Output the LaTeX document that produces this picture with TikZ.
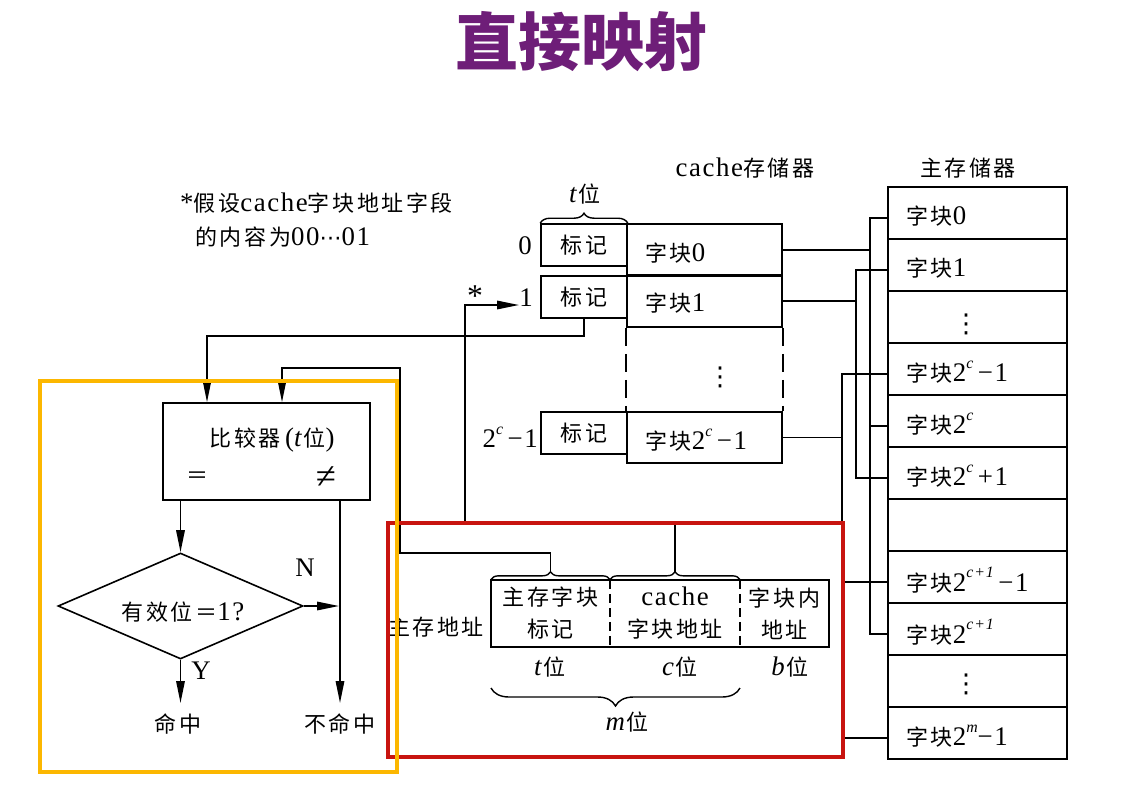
\documentclass[tikz,border=0pt]{standalone}
\usepackage{fontspec}
\setmainfont[Scale=1.22, LetterSpace=6]{Liberation Serif}
\newfontfamily\cjk[LetterSpace=12]{Noto Sans CJK SC}
\newfontfamily\cjktitle{Noto Sans CJK SC}
\newfontfamily\djv{DejaVu Sans}
\usetikzlibrary{arrows.meta,shapes.geometric,decorations.pathreplacing,calc}
\newcommand\zh[1]{{\cjk #1}}
\newcommand\upc[1]{\raisebox{0.5em}{\fontsize{13}{13}\selectfont\itshape #1}}
\newcommand\vd{{\djv\fontsize{26}{26}\selectfont ⋮}}
\definecolor{titlepurple}{RGB}{110,30,120}
\definecolor{hlorange}{RGB}{252,183,0}
\definecolor{hlred}{RGB}{200,20,15}
\begin{document}
\begin{tikzpicture}[x=1pt,y=-1pt,
  every node/.style={inner sep=0pt, font=\fontsize{22}{32}\selectfont},
  ln/.style={line width=1.6pt},
  arr/.style={line width=1.6pt, -{Triangle[length=22pt,width=8.5pt]}},
  tagbox/.style={draw, line width=1.6pt, minimum width=86, minimum height=42},
  datab/.style={draw, line width=1.6pt, minimum width=155, minimum height=#1},
  mmcell/.style={draw, line width=1.6pt, minimum width=179, minimum height=52},
  fieldb/.style={minimum width=#1, minimum height=67, align=center},
  bracedec/.style={line width=1.4pt, decorate, decoration={brace, amplitude=#1}},
  dashline/.style={line width=1.6pt, dash pattern=on 18pt off 8pt}
]
\useasboundingbox (0,0) rectangle (1139,803);

% title
\node[font=\cjktitle\bfseries\fontsize{63}{63}\selectfont, text=titlepurple] (title) at (581,42) {直接映射};

% note
\node[anchor=west] (note1) at (180,203) {*\zh{假设}cache\zh{字块地址字段}};
\node[anchor=west] (note2) at (195,237) {\zh{的内容为}00{\djv ⋯}01};

% cache
\node (cachelbl) at (745,168) {cache\zh{存储器}};
\node[tagbox] (tag0) at (584,245) {\zh{标记}};
\node[tagbox] (tag1) at (584,297) {\zh{标记}};
\node[tagbox] (tagN) at (584,433) {\zh{标记}};
\node[datab=52] (row0) at (704.5,250) {};
\node[datab=52] (row1) at (704.5,301) {};
\node[datab=51] (rowN) at (704.5,437.5) {};
\draw[dashline] (row1.south west) -- (rowN.north west);
\draw[dashline] (row1.south east) -- (rowN.north east);
\node[anchor=west] (l0) at (645,253) {\zh{字块}0};
\node[anchor=west] (l1) at (645,303) {\zh{字块}1};
\node[anchor=west] (lN) at (645,440) {\zh{字块}2\upc{c}\,−1};
\node (cvd) at (720,377) {\vd};
\node[anchor=east] (i0) at (532,246) {0};
\node[anchor=east] (i1) at (533,298) {1};
\node[anchor=east] (iN) at (538,437) {2\upc{c}\,−1};
\draw[bracedec=10] (tag0.north west) -- (tag0.north east);
\node (tlbl) at (585,194) {\textit{t}\zh{位}};

% main memory
\node (mmlbl) at (968,168) {\zh{主存储器}};
\foreach \i in {0,...,10} {\node[mmcell] (mm\i) at (977.5,{213+52*\i}) {};}
\node[anchor=west] (m0t) at (906,216) {\zh{字块}0};
\node[anchor=west] (m1t) at (906,268) {\zh{字块}1};
\node (m2t) at (966,324) {\vd};
\node[anchor=west] (m3t) at (906,372) {\zh{字块}2\upc{c}\,−1};
\node[anchor=west] (m4t) at (906,424) {\zh{字块}2\upc{c}};
\node[anchor=west] (m5t) at (906,476) {\zh{字块}2\upc{c}\,+1};
\node[anchor=west] (m7t) at (906,580) {\zh{字块}2\upc{c+1}\,−1};
\node[anchor=west] (m8t) at (906,632) {\zh{字块}2\upc{c+1}};
\node (m9t) at (966,684) {\vd};
\node[anchor=west] (m10t) at (906,736) {\zh{字块}2\upc{m}−1};

% buses cache -> main memory
\coordinate (busA) at (870,0);
\coordinate (busB) at (856,0);
\coordinate (busC) at (842,0);
\foreach \i in {0,1,3,4,5,7,8,10} {\coordinate (p\i) at ($(mm\i.west)+(0,5)$);}
\draw[ln] (row0.east) -- (row0.east -| busA);
\draw[ln] (p0) -- (p0 -| busA) -- (p8 -| busA) -- (p8);
\draw[ln] (p4) -- (p4 -| busA);
\draw[ln] (row1.east) -- (row1.east -| busB);
\draw[ln] (p1) -- (p1 -| busB) -- (p5 -| busB) -- (p5);
\draw[ln] (rowN.east) -- (rowN.east -| busC);
\draw[ln] (p3) -- (p3 -| busC) -- (p10 -| busC) -- (p10);
\draw[ln] (p7) -- (p7 -| busC);

% comparator and decision
\node[draw, line width=1.6pt, minimum width=207, minimum height=97] (cmp) at (266.5,451.5) {};
\node (cmpt) at (272,440) {\zh{比较器}\,(\textit{t}\zh{位})};
\node (eq) at (197,478) {\zh{＝}};
\node[font=\fontsize{30}{30}\selectfont] (neq) at (326,478) {≠};
\node[diamond, draw, line width=1.6pt, minimum width=245, minimum height=106] (dia) at (180.5,606) {};
\node (diat) at (183,612) {\zh{有效位＝}1?};
\node (hit) at (178,724) {\zh{命中}};
\node (miss) at (340,724) {\zh{不命中}};
\node (ylbl) at (201,671) {Y};
\node (nlbl) at (305,568) {N};
\coordinate (hitEnd) at (181,703);
\coordinate (missEnd) at (340,703);
\draw[arr] (cmp.south -| dia.north) -- (dia.north);
\draw[arr] (dia.south) -- (dia.south |- hitEnd);
\draw[arr] (cmp.south -| missEnd) -- (missEnd);
\draw[arr] (dia.east) -- ($(dia.east -| missEnd)+(-1,0)$);

% tag -> comparator
\coordinate (c1) at (207,336);
\draw[arr] (tag1.south) |- (c1) -- (c1 |- cmp.north);

% address field
\node (addrlbl) at (436,627) {\zh{主存地址}};
\node[fieldb=119] (ftag) at (550.5,613.5) {\zh{主存字块}\\\zh{标记}};
\node[fieldb=130] (fcache) at (675,613.5) {cache\\\zh{字块地址}};
\node[fieldb=89] (fblk) at (784.5,613.5) {\zh{字块内}\\\zh{地址}};
\draw[ln] (ftag.north west) rectangle (fblk.south east);
\draw[line width=1.6pt, dash pattern=on 9pt off 5pt] (ftag.north east) -- (ftag.south east);
\draw[line width=1.6pt, dash pattern=on 9pt off 5pt] (fcache.north east) -- (fcache.south east);
\draw[bracedec=8] (ftag.north west) -- (ftag.north east);
\draw[bracedec=8] (fcache.north west) -- (fcache.north east);
\coordinate (ttip) at ($(ftag.north)+(0,-8)$);
\coordinate (ctip) at ($(fcache.north)+(0,-8)$);
\node (tb) at (550,667) {\textit{t}\zh{位}};
\node (cb) at (680,667) {\textit{c}\zh{位}};
\node (bb) at (790,667) {\textit{b}\zh{位}};
\coordinate (mb1) at (491,688);
\coordinate (mb2) at (740,688);
\draw[bracedec=18] (mb2) -- (mb1);
\node (mlbl) at (627,722) {\textit{m}\zh{位}};

% address -> comparator
\coordinate (j1) at (400,553);
\coordinate (j2) at (282,368);
\draw[arr] (ttip) |- (j1) |- (j2) -- (j2 |- cmp.north);

% cache field -> cache line
\coordinate (k1) at (465,523);
\coordinate (k2) at (519,305);
\draw[arr] (ctip) |- (k1) |- (k2);
\node[font=\fontsize{26}{26}\selectfont] (star) at (475,296) {*};

% highlight boxes
\node[draw=hlred, line width=4pt, minimum width=455, minimum height=234] (redbox) at (615.5,640) {};
\node[draw=hlorange, line width=4pt, minimum width=357, minimum height=391] (orangebox) at (218.5,576.5) {};
\end{tikzpicture}
\end{document}
